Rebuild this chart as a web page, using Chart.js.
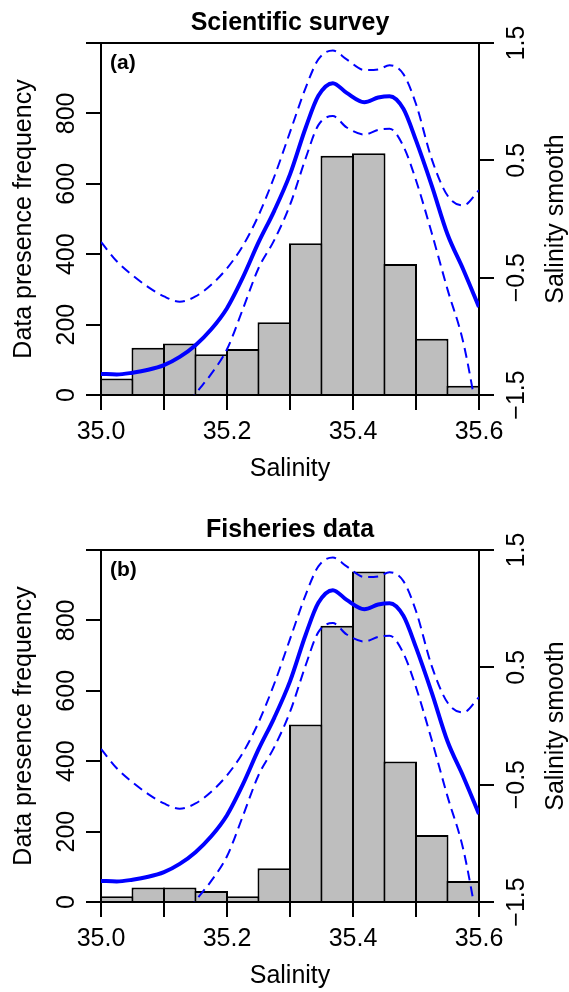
<!DOCTYPE html>
<html>
<head>
<meta charset="utf-8">
<script src="https://cdn.jsdelivr.net/npm/chart.js@4.4.1/dist/chart.umd.min.js"></script>
<style>
  html, body { margin: 0; padding: 0; background: #fff; }
  body { width: 569px; height: 992px; position: relative; overflow: hidden; }
  .panel { position: absolute; left: 0; width: 569px; }
  .panel canvas { display: block; }
  #panelA { top: 0; }
  #panelB { top: 507px; }
</style>
</head>
<body>
<div class="panel" id="panelA"><canvas id="chartA" width="569" height="485"></canvas></div>
<div class="panel" id="panelB"><canvas id="chartB" width="569" height="485"></canvas></div>
<script>
// histogram bins (salinity) and counts
var binEdges = [35.0, 35.05, 35.1, 35.15, 35.2, 35.25, 35.3, 35.35, 35.4, 35.45, 35.5, 35.55, 35.6]
var surveyCounts = [47, 134, 146, 116, 131, 207, 431, 680, 687, 372, 160, 26]
var fisheriesCounts = [16, 41, 41, 31, 16, 96, 504, 785, 939, 399, 190, 60]

// salinity smooth and its confidence band
var smoothX = [35.000, 35.025, 35.050, 35.075, 35.100, 35.125, 35.150, 35.175, 35.200, 35.225,
  35.250, 35.275, 35.300, 35.325, 35.345, 35.368, 35.390, 35.418, 35.440, 35.458,
  35.480, 35.500, 35.525, 35.550, 35.575, 35.600]
var smoothFit = [-1.32, -1.325, -1.31, -1.285, -1.245, -1.175, -1.075, -0.94, -0.76, -0.50,
  -0.20, 0.07, 0.38, 0.78, 1.05, 1.158, 1.075, 0.996, 1.035, 1.047,
  0.94, 0.67, 0.285, -0.13, -0.43, -0.75]
var smoothUpper = [-0.195, -0.36, -0.48, -0.58, -0.66, -0.705, -0.66, -0.56, -0.42, -0.23,
  0.03, 0.36, 0.74, 1.12, 1.36, 1.436, 1.36, 1.27, 1.275, 1.31,
  1.235, 0.98, 0.51, 0.20, 0.115, 0.245]
var smoothLower = [null, null, null, null, null, -1.68, -1.49, -1.32, -1.11, -0.77,
  -0.42, -0.18, 0.12, 0.52, 0.80, 0.877, 0.78, 0.72, 0.76, 0.77,
  0.62, 0.33, -0.12, -0.60, -1.05, -1.75]

// axis ticks
var xTicks = [35.0, 35.1, 35.2, 35.3, 35.4, 35.5, 35.6]
var xTickLabels = ['35.0', '', '35.2', '', '35.4', '', '35.6']
var countTicks = [0, 200, 400, 600, 800, 1000]
var countTickLabels = ['0', '200', '400', '600', '800', '']
var smoothTicks = [-1.5, -0.5, 0.5, 1.5]
var smoothTickLabels = ['\u22121.5', '\u22120.5', '0.5', '1.5']

var fontFamily = "'Liberation Sans', Arial, Helvetica, sans-serif"
Chart.defaults.font.family = fontFamily
Chart.defaults.font.size = 25
Chart.defaults.color = '#000'

// top of the box, panel tag, right axis title
var panelExtras = {
  id: 'panelExtras',
  afterDraw(chart, args, opts) {
    var ctx = chart.ctx
    var a = chart.chartArea
    ctx.save()
    ctx.strokeStyle = '#000'
    ctx.lineWidth = 2
    ctx.beginPath()
    ctx.moveTo(a.left - 1, a.top)
    ctx.lineTo(a.right + 1, a.top)
    ctx.stroke()

    ctx.fillStyle = '#000'
    ctx.font = 'bold 21px ' + fontFamily
    ctx.textAlign = 'left'
    ctx.textBaseline = 'middle'
    ctx.fillText(opts.tag, a.left + 9, a.top + 20)

    ctx.font = '25px ' + fontFamily
    ctx.translate(a.right + 77, (a.top + a.bottom) / 2)
    ctx.rotate(-Math.PI / 2)
    ctx.textAlign = 'center'
    ctx.fillText(opts.rightTitle, 0, 0)
    ctx.restore()
  }
}

function axisGrid() {
  return { drawOnChartArea: false, tickLength: 15, color: '#000', lineWidth: 2 }
}

function makeChart(id, title, tag, counts) {
  var bars = []
  for (let i = 0; i < counts.length; i++) {
    bars.push({ x: (binEdges[i] + binEdges[i + 1]) / 2, y: counts[i] })
  }
  var pts = arr => smoothX.map((x, i) => ({ x: x, y: arr[i] }))

  return new Chart(document.getElementById(id), {
    type: 'line',
    data: {
      datasets: [
        {
          type: 'bar',
          data: bars,
          backgroundColor: '#bebebe',
          borderColor: '#000',
          borderWidth: { top: 2, left: 2, right: 2, bottom: 0 },
          borderSkipped: false,
          // a little wider than the bin so neighbouring edges share one 2px line
          barPercentage: 33.5 / 31.5,
          categoryPercentage: 1,
          xAxisID: 'x',
          yAxisID: 'y',
          order: 3
        }, {
          data: pts(smoothFit),
          borderColor: '#0000ff',
          borderWidth: 4,
          pointRadius: 0,
          cubicInterpolationMode: 'monotone',
          xAxisID: 'x',
          yAxisID: 'y2',
          order: 1
        }, {
          data: pts(smoothUpper),
          borderColor: '#0000ff',
          borderWidth: 2,
          borderDash: [10, 6],
          pointRadius: 0,
          cubicInterpolationMode: 'monotone',
          xAxisID: 'x',
          yAxisID: 'y2',
          order: 2
        }, {
          data: pts(smoothLower),
          borderColor: '#0000ff',
          borderWidth: 2,
          borderDash: [10, 6],
          pointRadius: 0,
          cubicInterpolationMode: 'monotone',
          xAxisID: 'x',
          yAxisID: 'y2',
          order: 2
        }
      ]
    },
    options: {
      responsive: false,
      animation: false,
      devicePixelRatio: 1,
      layout: { padding: 0 },
      plugins: {
        legend: { display: false },
        tooltip: { enabled: false },
        title: {
          display: true,
          text: title,
          fullSize: false,
          color: '#000',
          font: { size: 25, weight: 'bold' },
          padding: { top: 8, bottom: 5 }
        },
        panelExtras: { tag: tag, rightTitle: 'Salinity smooth' }
      },
      scales: {
        x: {
          type: 'linear',
          position: 'bottom',
          min: 35.0,
          max: 35.6,
          offset: false,
          afterBuildTicks: s => { s.ticks = xTicks.map(v => ({ value: v })) },
          afterFit: s => { s.height = 485 - 395 },
          ticks: { callback: (v, i) => xTickLabels[i], maxRotation: 0, autoSkip: false, padding: 7 },
          grid: Object.assign(axisGrid(), { offset: false }),
          border: { display: true, color: '#000', width: 2 },
          title: { display: true, text: 'Salinity', padding: { top: 0, bottom: 1 } }
        },
        y: {
          position: 'left',
          min: 0,
          max: 1000,
          afterBuildTicks: s => { s.ticks = countTicks.map(v => ({ value: v })) },
          afterFit: s => { s.width = 101 },
          ticks: {
            callback: (v, i) => countTickLabels[i],
            minRotation: 90, maxRotation: 90,
            crossAlign: 'center', padding: -2, autoSkip: false
          },
          grid: axisGrid(),
          border: { display: true, color: '#000', width: 2 },
          title: { display: true, text: 'Data presence frequency', padding: { top: 9, bottom: 0 } }
        },
        y2: {
          position: 'right',
          min: -1.5,
          max: 1.5,
          afterBuildTicks: s => { s.ticks = smoothTicks.map(v => ({ value: v })) },
          afterFit: s => { s.width = 569 - 479 },
          ticks: {
            callback: (v, i) => smoothTickLabels[i],
            minRotation: 90, maxRotation: 90,
            crossAlign: 'center', padding: -2, autoSkip: false
          },
          grid: axisGrid(),
          border: { display: true, color: '#000', width: 2 }
        }
      }
    },
    plugins: [panelExtras]
  })
}

makeChart('chartA', 'Scientific survey', '(a)', surveyCounts)
makeChart('chartB', 'Fisheries data', '(b)', fisheriesCounts)
</script>
</body>
</html>
